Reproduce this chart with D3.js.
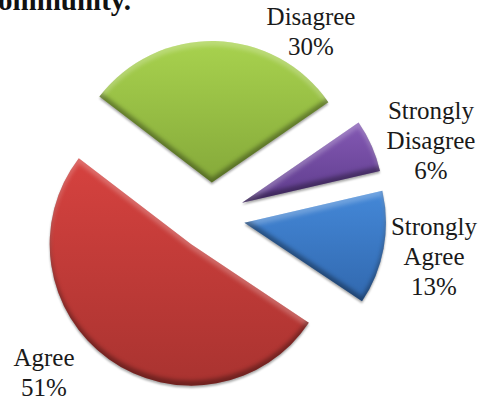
<!DOCTYPE html>
<html><head><meta charset="utf-8">
<script src="https://cdnjs.cloudflare.com/ajax/libs/d3/7.8.5/d3.min.js"></script>
<style>html,body{margin:0;padding:0;background:#fff;overflow:hidden}svg{display:block}</style>
</head><body>
<svg id="c" width="484" height="400"></svg>
<script>
const categories = ["Strongly Agree", "Agree", "Disagree", "Strongly Disagree"];
const values = [13, 51, 30, 6];
const titleFragment = "ommunity.";
const labelLines = [["Strongly","Agree","13%"],["Agree","51%"],["Disagree","30%"],["Strongly","Disagree","6%"]];
const labelAnchors = [[434,235],[44,366],[311,25],[431,119]];
const topColors = ["#4488d8","#d6423f","#a8d24e","#8459b4"];
const bottomColors = ["#3168ae","#a93330","#85a93a","#5e3c8c"];

const svg = d3.select("#c");
const font = "'Liberation Serif', serif";
const cx = 211, cy = 216.5, R = 141.5, explode = 34;
const rad = Math.PI/180;
const pie = d3.pie().sort(null).startAngle(77*rad).endAngle(437*rad);
const arcs = pie(values);
const arc = d3.arc().innerRadius(0).outerRadius(R);

const defs = svg.append("defs");
categories.forEach((c,i)=>{
  const g = defs.append("linearGradient").attr("id","g"+i).attr("x1",0).attr("y1",0).attr("x2",0).attr("y2",1);
  g.append("stop").attr("offset","0%").attr("stop-color",topColors[i]);
  g.append("stop").attr("offset","100%").attr("stop-color",bottomColors[i]);
});
const f = defs.append("filter").attr("id","bevel").attr("x","-10%").attr("y","-10%").attr("width","120%").attr("height","120%")
  .attr("color-interpolation-filters","sRGB");
f.append("feGaussianBlur").attr("in","SourceAlpha").attr("stdDeviation",2.2).attr("result","sb");
f.append("feOffset").attr("in","sb").attr("dy",5).attr("result","sd");
f.append("feComposite").attr("in","SourceAlpha").attr("in2","sd").attr("operator","out").attr("result","topEdge");
f.append("feFlood").attr("flood-color","#fff").attr("flood-opacity",.24).attr("result","w");
f.append("feComposite").attr("in","w").attr("in2","topEdge").attr("operator","in").attr("result","hi");
f.append("feOffset").attr("in","sb").attr("dy",-5).attr("result","su");
f.append("feComposite").attr("in","SourceAlpha").attr("in2","su").attr("operator","out").attr("result","botEdge");
f.append("feFlood").attr("flood-color","#000").attr("flood-opacity",.34).attr("result","k");
f.append("feComposite").attr("in","k").attr("in2","botEdge").attr("operator","in").attr("result","lo");
f.append("feOffset").attr("in","SourceAlpha").attr("dy",1.5).attr("result","so");
f.append("feGaussianBlur").attr("in","so").attr("stdDeviation",1.2).attr("result","sob");
f.append("feFlood").attr("flood-color","#000").attr("flood-opacity",.35).attr("result","k2");
f.append("feComposite").attr("in","k2").attr("in2","sob").attr("operator","in").attr("result","shadow");
const m = f.append("feMerge");
["shadow","SourceGraphic","hi","lo"].forEach(n=>m.append("feMergeNode").attr("in",n));

svg.append("g").attr("transform",`translate(${cx},${cy})`)
  .selectAll("path").data(arcs).join("path")
  .attr("d",arc)
  .attr("fill",(d,i)=>`url(#g${i})`)
  .attr("filter","url(#bevel)")
  .attr("transform",d=>{
    const a=(d.startAngle+d.endAngle)/2;
    return `translate(${explode*Math.sin(a)},${-explode*Math.cos(a)})`;
  });

const lh = 29.8;
labelLines.forEach((lines,i)=>{
  const t = svg.append("text").attr("text-anchor","middle")
    .attr("font-family",font).attr("font-size",25).attr("fill","#1a1a1a");
  lines.forEach((s,j)=>t.append("tspan").attr("x",labelAnchors[i][0]).attr("y",labelAnchors[i][1]+j*lh).text(s));
});
svg.append("text").attr("x",-2).attr("y",10).attr("font-family",font).attr("font-weight","bold")
  .attr("font-size",29).attr("fill","#111").text(titleFragment);
</script>
</body></html>
